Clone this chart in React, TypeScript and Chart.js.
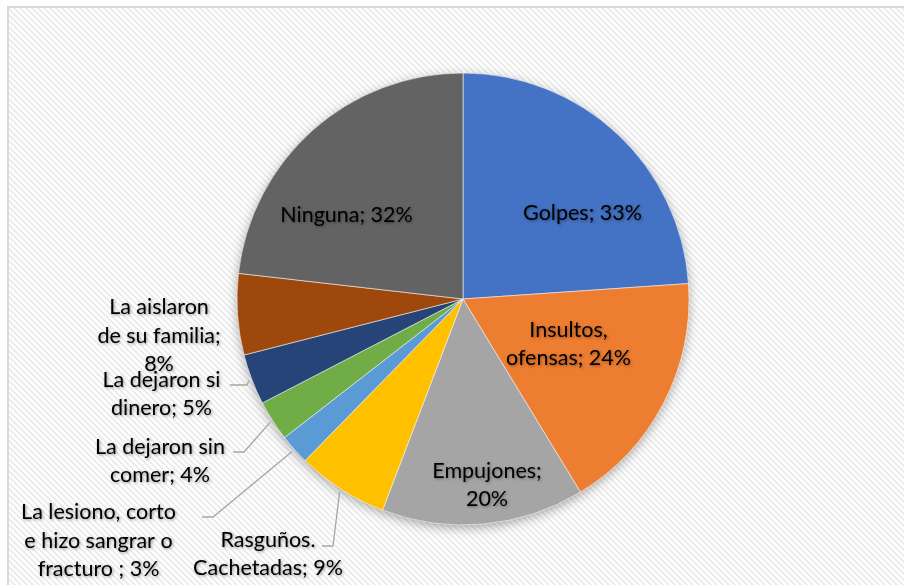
import React, { useEffect, useRef } from "react";
import { Chart, registerables } from "chart.js";

Chart.register(...registerables);

// ---- data ----
const categories = [
  "Golpes",
  "Insultos, ofensas",
  "Empujones",
  "Rasguños. Cachetadas",
  "La lesiono, corto e hizo sangrar o fracturo ",
  "La dejaron sin comer",
  "La dejaron si dinero",
  "La aislaron de su familia",
  "Ninguna",
];
const values = [33, 24, 20, 9, 3, 4, 5, 8, 32];
const labelLines = [
  ["Golpes; 33%"],
  ["Insultos,", "ofensas; 24%"],
  ["Empujones;", "20%"],
  ["Rasguños.", "Cachetadas; 9%"],
  ["La lesiono, corto", "e hizo sangrar o", "fracturo ; 3%"],
  ["La dejaron sin", "comer; 4%"],
  ["La dejaron si", "dinero; 5%"],
  ["La aislaron", "de su familia;", "8%"],
  ["Ninguna; 32%"],
];

// ---- style / layout ----
const colors = [
  "#4472C4",
  "#ED7D31",
  "#A5A5A5",
  "#FFC000",
  "#5B9BD5",
  "#70AD47",
  "#264478",
  "#9E480E",
  "#636363",
];
// label block centre, relative to pie centre (px)
const labelOffsets: [number, number][] = [
  [119.5, -86],
  [105.5, 45],
  [24, 186],
  [-195, 255],
  [-364.5, 242],
  [-303, 162],
  [-301.5, 95],
  [-304, 37],
  [-116.5, -84],
];
// leader line: [startDx, elbowDx, lineDy] relative to pie centre, or null
const leaders: ([number, number, number] | null)[] = [
  null,
  null,
  null,
  [-141, -130, 247],
  [-261, -250, 218],
  [-230, -219, 153],
  [-233, -216, 86],
  null,
  null,
];

const FONT = "21.5px Lato, Carlito, 'Liberation Sans', sans-serif";
const LINE_H = 28.5;
const RADIUS = 226;

function makePattern(ctx: CanvasRenderingContext2D) {
  const c = document.createElement("canvas");
  c.width = 6;
  c.height = 6;
  const p = c.getContext("2d")!;
  p.fillStyle = "#ffffff";
  p.fillRect(0, 0, 6, 6);
  p.strokeStyle = "rgba(0,0,0,0.075)";
  p.lineWidth = 2;
  p.beginPath();
  p.moveTo(-1, -1);
  p.lineTo(7, 7);
  p.moveTo(-4, 2);
  p.lineTo(4, 10);
  p.moveTo(2, -4);
  p.lineTo(10, 4);
  p.stroke();
  return ctx.createPattern(c, "repeat")!;
}

const backgroundPlugin = {
  id: "bgPlugin",
  beforeDraw(chart: any) {
    const ctx: CanvasRenderingContext2D = chart.ctx;
    const w = chart.width;
    const h = chart.height;
    ctx.save();
    ctx.fillStyle = "#ffffff";
    ctx.fillRect(0, 0, w, h);
    ctx.fillStyle = makePattern(ctx);
    ctx.fillRect(9, 8, w - 9, h - 8);
    ctx.fillStyle = "#D9D9D9";
    ctx.fillRect(7, 6, w - 7, 2);
    ctx.fillRect(7, 6, 2, h - 6);
    ctx.restore();
  },
  beforeDatasetsDraw(chart: any) {
    const meta = chart.getDatasetMeta(0);
    const arc = meta.data[0];
    if (!arc) return;
    const ctx: CanvasRenderingContext2D = chart.ctx;
    ctx.save();
    ctx.shadowColor = "rgba(0,0,0,0.38)";
    ctx.shadowBlur = 12;
    ctx.shadowOffsetX = 0;
    ctx.shadowOffsetY = 3;
    ctx.fillStyle = "#888888";
    ctx.beginPath();
    ctx.arc(arc.x, arc.y, arc.outerRadius - 1, 0, Math.PI * 2);
    ctx.fill();
    ctx.restore();
  },
};

const labelPlugin = {
  id: "labelPlugin",
  afterDatasetsDraw(chart: any) {
    const meta = chart.getDatasetMeta(0);
    const ctx: CanvasRenderingContext2D = chart.ctx;
    ctx.save();
    meta.data.forEach((arc: any, i: number) => {
      const cx = arc.x;
      const cy = arc.y;
      const lead = leaders[i];
      if (lead) {
        const mid = (arc.startAngle + arc.endAngle) / 2;
        const ex = cx + Math.cos(mid) * (arc.outerRadius + 3);
        const ey = cy + Math.sin(mid) * (arc.outerRadius + 3);
        ctx.strokeStyle = "#A6A6A6";
        ctx.lineWidth = 1.3;
        ctx.beginPath();
        ctx.moveTo(cx + lead[0], cy + lead[2]);
        ctx.lineTo(cx + lead[1], cy + lead[2]);
        ctx.lineTo(ex, ey);
        ctx.stroke();
      }
      const lines = labelLines[i];
      const [dx, dy] = labelOffsets[i];
      const bx = cx + dx;
      const by = cy + dy - ((lines.length - 1) * LINE_H) / 2;
      ctx.font = FONT;
      ctx.textAlign = "center";
      ctx.textBaseline = "middle";
      ctx.fillStyle = "#000000";
      ctx.shadowColor = "rgba(0,0,0,0.4)";
      ctx.shadowBlur = 3;
      ctx.shadowOffsetX = 1;
      ctx.shadowOffsetY = 1;
      lines.forEach((t, k) => {
        ctx.fillText(t, bx, by + k * LINE_H);
      });
      ctx.shadowColor = "transparent";
      ctx.shadowBlur = 0;
      ctx.shadowOffsetX = 0;
      ctx.shadowOffsetY = 0;
    });
    ctx.restore();
  },
};

export default function App() {
  const ref = useRef<HTMLCanvasElement | null>(null);
  useEffect(() => {
    if (!ref.current) return;
    const chart = new Chart(ref.current, {
      type: "pie",
      data: {
        labels: categories,
        datasets: [
          {
            data: values,
            backgroundColor: colors,
            borderColor: "rgba(255,255,255,0.55)",
            borderWidth: 1,
            hoverOffset: 0,
          },
        ],
      },
      options: {
        animation: false,
        responsive: false,
        devicePixelRatio: 1,
        radius: RADIUS,
        layout: { padding: { left: 22, right: 0, top: 13, bottom: 0 } },
        plugins: {
          legend: { display: false },
          title: { display: false },
          tooltip: { enabled: false },
        },
        events: [],
      } as any,
      plugins: [backgroundPlugin, labelPlugin],
    });
    return () => chart.destroy();
  }, []);
  return (
    <div
      style={{
        position: "absolute",
        left: 0,
        top: 0,
        width: 904,
        height: 585,
        overflow: "hidden",
        background: "#fff",
      }}
    >
      <canvas ref={ref} width={904} height={585} style={{ width: 904, height: 585, display: "block" }} />
    </div>
  );
}
